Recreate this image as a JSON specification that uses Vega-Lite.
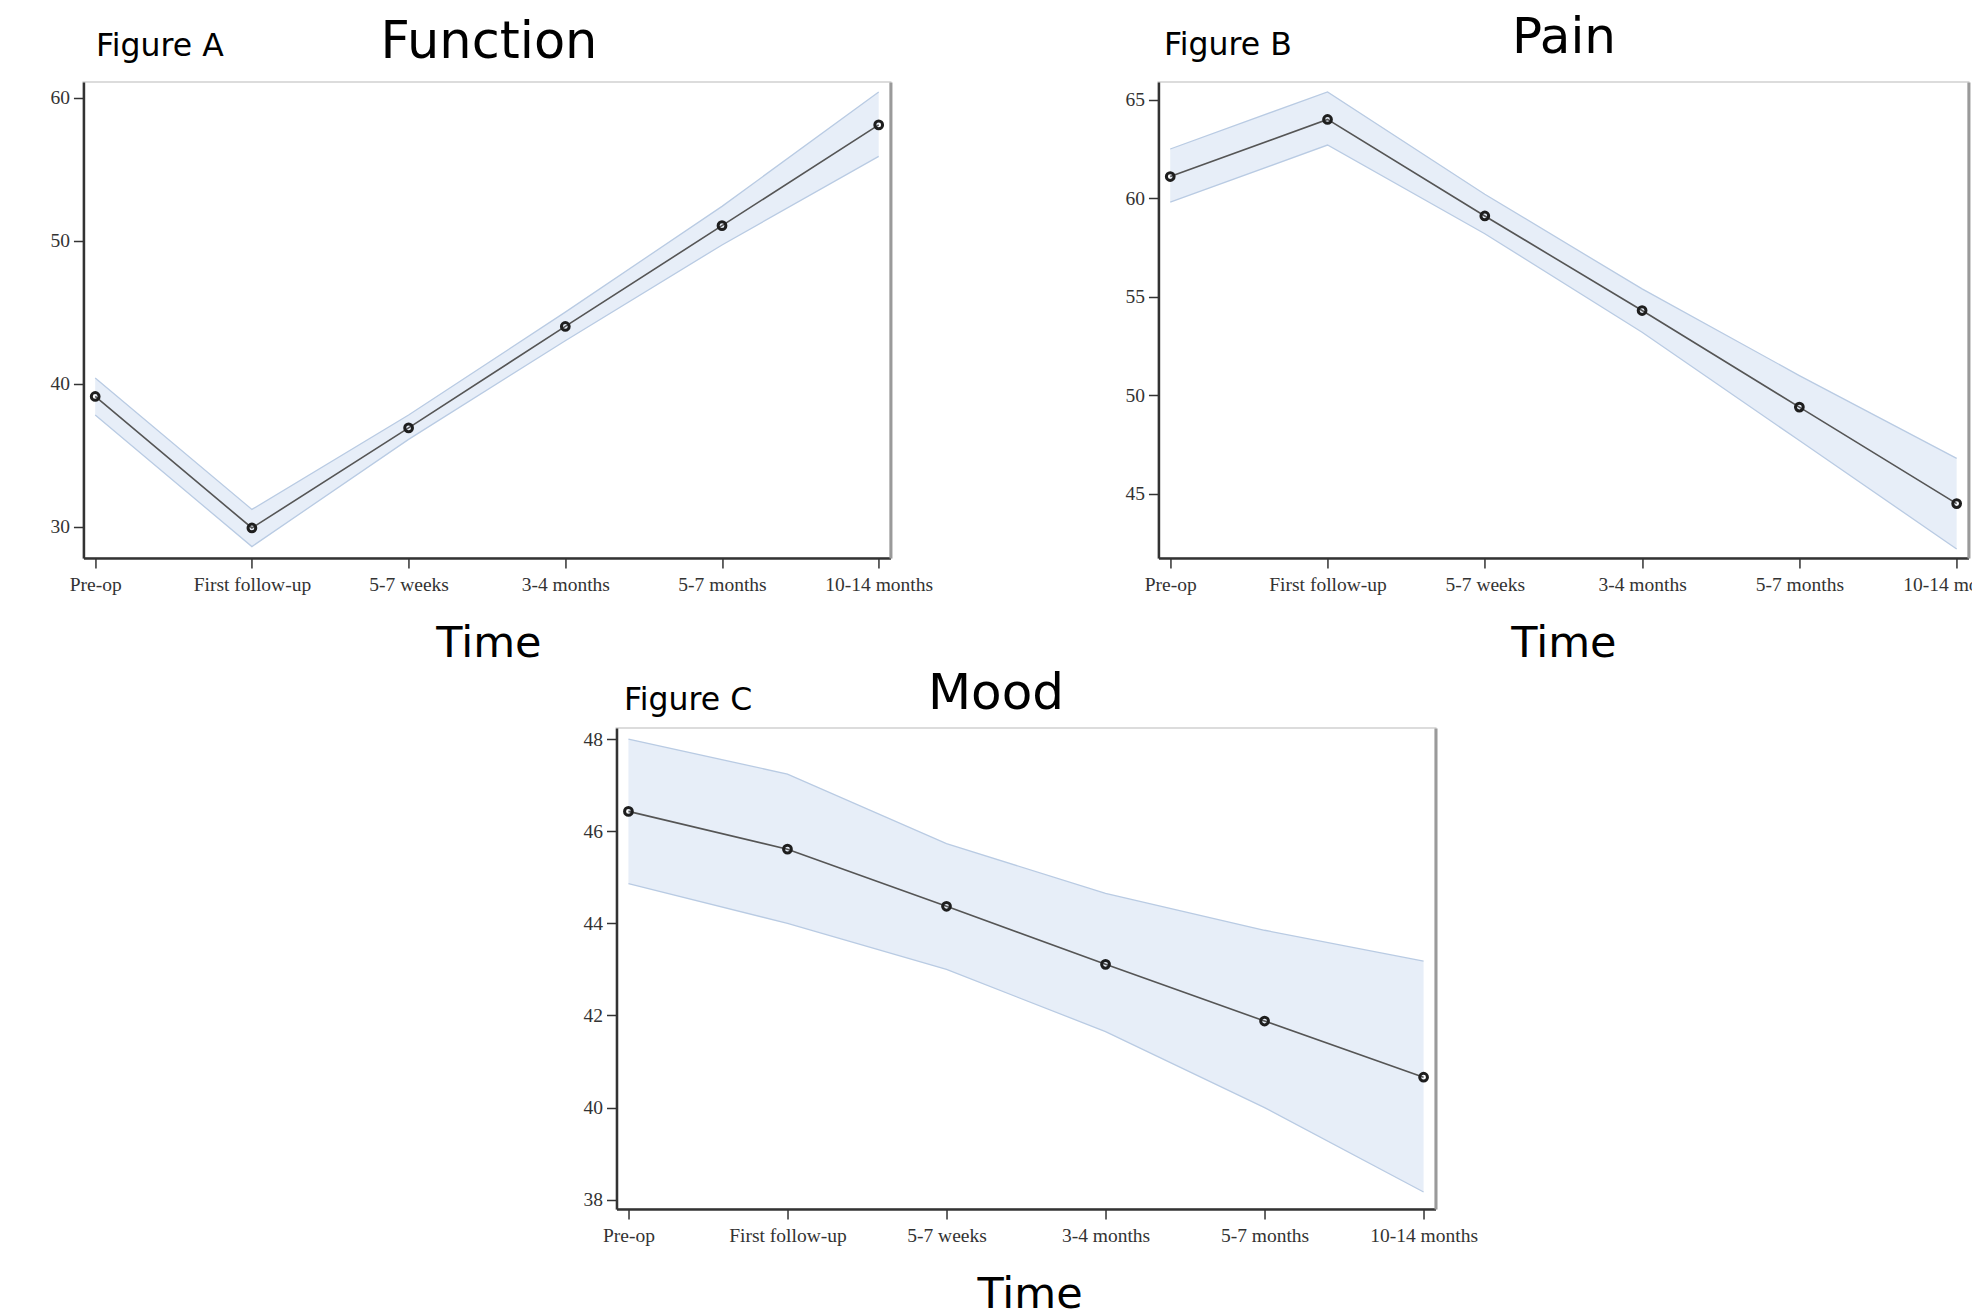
{
  "$schema": "https://vega.github.io/schema/vega-lite/v6.json",
  "padding": {"left": 48, "top": 11, "right": 0, "bottom": 0},
  "background": "white",
  "datasets": {
    "A": [
      {"t": "Pre-op", "m": 39.1, "lo": 37.8, "hi": 40.4},
      {"t": "First follow-up", "m": 29.9, "lo": 28.6, "hi": 31.2},
      {"t": "5-7 weeks", "m": 36.9, "lo": 36.1, "hi": 37.8},
      {"t": "3-4 months", "m": 44.0, "lo": 43.0, "hi": 45.0},
      {"t": "5-7 months", "m": 51.05, "lo": 49.7, "hi": 52.4},
      {"t": "10-14 months", "m": 58.1, "lo": 55.9, "hi": 60.4}
    ],
    "B": [
      {"t": "Pre-op", "m": 61.1, "lo": 59.8, "hi": 62.5},
      {"t": "First follow-up", "m": 64.0, "lo": 62.7, "hi": 65.4},
      {"t": "5-7 weeks", "m": 59.1, "lo": 58.2, "hi": 60.2},
      {"t": "3-4 months", "m": 54.3, "lo": 53.2, "hi": 55.4},
      {"t": "5-7 months", "m": 49.4, "lo": 47.7, "hi": 51.0},
      {"t": "10-14 months", "m": 44.5, "lo": 42.2, "hi": 46.8}
    ],
    "C": [
      {"t": "Pre-op", "m": 46.43, "lo": 44.86, "hi": 48.0},
      {"t": "First follow-up", "m": 45.61, "lo": 44.0, "hi": 47.24},
      {"t": "5-7 weeks", "m": 44.37, "lo": 43.0, "hi": 45.73},
      {"t": "3-4 months", "m": 43.11, "lo": 41.65, "hi": 44.65},
      {"t": "5-7 months", "m": 41.88, "lo": 40.0, "hi": 43.85},
      {"t": "10-14 months", "m": 40.66, "lo": 38.17, "hi": 43.18}
    ]
  },
  "center": true,
  "spacing": 1,
  "vconcat": [
    {
      "bounds": "flush",
      "spacing": 268,
      "hconcat": [
        {
          "data": {"name": "A"},
          "width": 807,
          "height": 476,
          "resolve": {"axis": {"x": "independent", "y": "independent"}},
          "layer": [
            {
              "mark": {"type": "area", "color": "#e7eef8", "opacity": 1},
              "encoding": {
                "x": {"field": "t", "type": "ordinal", "sort": ["Pre-op", "First follow-up", "5-7 weeks", "3-4 months", "5-7 months", "10-14 months"], "scale": {"type": "point", "padding": 0.075},
                  "axis": {"orient": "bottom", "title": "Time", "titleFontSize": 43, "titleX": 405, "titleY": 98, "titleAlign": "center", "titleBaseline": "alphabetic"}},
                "y": {"field": "lo", "type": "quantitative", "scale": {"domain": [27.8, 61.1], "nice": false, "zero": false},
                  "axis": {"orient": "left", "values": [30, 40, 50, 60], "title": "Figure A", "titleAngle": 0, "titleFontSize": 31.5, "titleX": 12, "titleY": -27, "titleAlign": "left", "titleBaseline": "alphabetic"}},
                "y2": {"field": "hi"}
              }
            },
            {
              "mark": {"type": "line", "color": "#b9cbe3", "strokeWidth": 1.3},
              "encoding": {
                "x": {"field": "t", "type": "ordinal", "sort": ["Pre-op", "First follow-up", "5-7 weeks", "3-4 months", "5-7 months", "10-14 months"],
                  "axis": {"orient": "top", "title": "Function", "labels": false, "ticks": false, "domain": false, "titleFontSize": 51, "titleX": 405, "titleY": -25, "titleAlign": "center", "titleBaseline": "alphabetic"}},
                "y": {"field": "hi", "type": "quantitative",
                  "axis": {"orient": "right", "labels": false, "ticks": false, "title": null, "domainColor": "#9a9a9a", "domainWidth": 3}}
              }
            },
            {
              "mark": {"type": "line", "color": "#b9cbe3", "strokeWidth": 1.3},
              "encoding": {
                "x": {"field": "t", "type": "ordinal", "sort": ["Pre-op", "First follow-up", "5-7 weeks", "3-4 months", "5-7 months", "10-14 months"], "axis": null},
                "y": {"field": "lo", "type": "quantitative", "axis": null}
              }
            },
            {
              "mark": {"type": "line", "color": "#555555", "strokeWidth": 1.6},
              "encoding": {
                "x": {"field": "t", "type": "ordinal", "sort": ["Pre-op", "First follow-up", "5-7 weeks", "3-4 months", "5-7 months", "10-14 months"], "axis": null},
                "y": {"field": "m", "type": "quantitative", "axis": null}
              }
            },
            {
              "mark": {"type": "point", "shape": "circle", "filled": false, "color": "#1e1e1e", "strokeWidth": 3, "size": 60, "opacity": 1},
              "encoding": {
                "x": {"field": "t", "type": "ordinal", "sort": ["Pre-op", "First follow-up", "5-7 weeks", "3-4 months", "5-7 months", "10-14 months"], "axis": null},
                "y": {"field": "m", "type": "quantitative", "axis": null}
              }
            }
          ]
        },
        {
          "data": {"name": "B"},
          "width": 810,
          "height": 476,
          "resolve": {"axis": {"x": "independent", "y": "independent"}},
          "layer": [
            {
              "mark": {"type": "area", "color": "#e7eef8", "opacity": 1},
              "encoding": {
                "x": {"field": "t", "type": "ordinal", "sort": ["Pre-op", "First follow-up", "5-7 weeks", "3-4 months", "5-7 months", "10-14 months"], "scale": {"type": "point", "padding": 0.075},
                  "axis": {"orient": "bottom", "title": "Time", "titleFontSize": 43, "titleX": 405, "titleY": 98, "titleAlign": "center", "titleBaseline": "alphabetic"}},
                "y": {"field": "lo", "type": "quantitative", "scale": {"domain": [41.74, 65.9], "nice": false, "zero": false},
                  "axis": {"orient": "left", "values": [45, 50, 55, 60, 65], "title": "Figure B", "titleAngle": 0, "titleFontSize": 31.5, "titleX": 5, "titleY": -28, "titleAlign": "left", "titleBaseline": "alphabetic"}},
                "y2": {"field": "hi"}
              }
            },
            {
              "mark": {"type": "line", "color": "#b9cbe3", "strokeWidth": 1.3},
              "encoding": {
                "x": {"field": "t", "type": "ordinal", "sort": ["Pre-op", "First follow-up", "5-7 weeks", "3-4 months", "5-7 months", "10-14 months"],
                  "axis": {"orient": "top", "title": "Pain", "labels": false, "ticks": false, "domain": false, "titleFontSize": 50, "titleX": 405, "titleY": -30, "titleAlign": "center", "titleBaseline": "alphabetic"}},
                "y": {"field": "hi", "type": "quantitative",
                  "axis": {"orient": "right", "labels": false, "ticks": false, "title": null, "domainColor": "#9a9a9a", "domainWidth": 3}}
              }
            },
            {
              "mark": {"type": "line", "color": "#b9cbe3", "strokeWidth": 1.3},
              "encoding": {
                "x": {"field": "t", "type": "ordinal", "sort": ["Pre-op", "First follow-up", "5-7 weeks", "3-4 months", "5-7 months", "10-14 months"], "axis": null},
                "y": {"field": "lo", "type": "quantitative", "axis": null}
              }
            },
            {
              "mark": {"type": "line", "color": "#555555", "strokeWidth": 1.6},
              "encoding": {
                "x": {"field": "t", "type": "ordinal", "sort": ["Pre-op", "First follow-up", "5-7 weeks", "3-4 months", "5-7 months", "10-14 months"], "axis": null},
                "y": {"field": "m", "type": "quantitative", "axis": null}
              }
            },
            {
              "mark": {"type": "point", "shape": "circle", "filled": false, "color": "#1e1e1e", "strokeWidth": 3, "size": 60, "opacity": 1},
              "encoding": {
                "x": {"field": "t", "type": "ordinal", "sort": ["Pre-op", "First follow-up", "5-7 weeks", "3-4 months", "5-7 months", "10-14 months"], "axis": null},
                "y": {"field": "m", "type": "quantitative", "axis": null}
              }
            }
          ]
        }
      ]
    },
    {
      "data": {"name": "C"},
      "width": 819,
      "height": 481,
      "resolve": {"axis": {"x": "independent", "y": "independent"}},
      "layer": [
        {
          "mark": {"type": "area", "color": "#e7eef8", "opacity": 1},
          "encoding": {
            "x": {"field": "t", "type": "ordinal", "sort": ["Pre-op", "First follow-up", "5-7 weeks", "3-4 months", "5-7 months", "10-14 months"], "scale": {"type": "point", "padding": 0.075},
              "axis": {"orient": "bottom", "title": "Time", "titleFontSize": 43, "titleX": 413, "titleY": 98, "titleAlign": "center", "titleBaseline": "alphabetic"}},
            "y": {"field": "lo", "type": "quantitative", "scale": {"domain": [37.8, 48.24], "nice": false, "zero": false},
              "axis": {"orient": "left", "values": [38, 40, 42, 44, 46, 48], "title": "Figure C", "titleAngle": 0, "titleFontSize": 31.5, "titleX": 7, "titleY": -19, "titleAlign": "left", "titleBaseline": "alphabetic"}},
            "y2": {"field": "hi"}
          }
        },
        {
          "mark": {"type": "line", "color": "#b9cbe3", "strokeWidth": 1.3},
          "encoding": {
            "x": {"field": "t", "type": "ordinal", "sort": ["Pre-op", "First follow-up", "5-7 weeks", "3-4 months", "5-7 months", "10-14 months"],
              "axis": {"orient": "top", "title": "Mood", "labels": false, "ticks": false, "domain": false, "titleFontSize": 50, "titleX": 379, "titleY": -20, "titleAlign": "center", "titleBaseline": "alphabetic"}},
            "y": {"field": "hi", "type": "quantitative",
              "axis": {"orient": "right", "labels": false, "ticks": false, "title": null, "domainColor": "#9a9a9a", "domainWidth": 3}}
          }
        },
        {
          "mark": {"type": "line", "color": "#b9cbe3", "strokeWidth": 1.3},
          "encoding": {
            "x": {"field": "t", "type": "ordinal", "sort": ["Pre-op", "First follow-up", "5-7 weeks", "3-4 months", "5-7 months", "10-14 months"], "axis": null},
            "y": {"field": "lo", "type": "quantitative", "axis": null}
          }
        },
        {
          "mark": {"type": "line", "color": "#555555", "strokeWidth": 1.6},
          "encoding": {
            "x": {"field": "t", "type": "ordinal", "sort": ["Pre-op", "First follow-up", "5-7 weeks", "3-4 months", "5-7 months", "10-14 months"], "axis": null},
            "y": {"field": "m", "type": "quantitative", "axis": null}
          }
        },
        {
          "mark": {"type": "point", "shape": "circle", "filled": false, "color": "#1e1e1e", "strokeWidth": 3, "size": 60, "opacity": 1},
          "encoding": {
            "x": {"field": "t", "type": "ordinal", "sort": ["Pre-op", "First follow-up", "5-7 weeks", "3-4 months", "5-7 months", "10-14 months"], "axis": null},
            "y": {"field": "m", "type": "quantitative", "axis": null}
          }
        }
      ]
    }
  ],
  "config": {
    "view": {"stroke": "#dcdcdc", "strokeWidth": 2},
    "axis": {
      "grid": false,
      "labelFont": "Liberation Serif",
      "labelFontSize": 19.5,
      "labelColor": "#333333",
      "labelAngle": 0,
      "labelPadding": 4,
      "tickColor": "#333333",
      "tickSize": 10,
      "tickWidth": 1.5,
      "domainColor": "#333333",
      "domainWidth": 2.5,
      "titleFont": "DejaVu Sans",
      "titleFontWeight": "normal",
      "titleColor": "#000000"
    },
    "axisX": {"labelPadding": 7}
  }
}
